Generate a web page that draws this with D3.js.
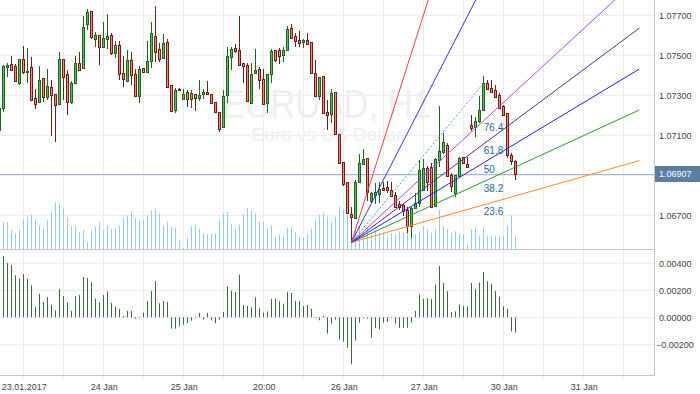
<!DOCTYPE html>
<html>
<head>
<meta charset="utf-8">
<script src="https://cdn.jsdelivr.net/npm/d3@7"></script>
<style>
  body { margin: 0; background: #fff; }
  svg { display: block; font-family: "Liberation Sans", Arial, sans-serif; }
</style>
</head>
<body>
<svg id="chart" width="700" height="394"></svg>
<script>
// EURUSD H1 candles, one entry per bar
const opens = [1.07127,1.07235,1.07440,1.07455,1.07447,1.07364,1.07480,1.07415,1.07440,1.07285,
  1.07265,1.07385,1.07290,1.07340,1.07305,1.07255,1.07480,1.07407,1.07264,1.07360,
  1.07460,1.07434,1.07655,1.07720,1.07584,1.07600,1.07539,1.07584,1.07600,1.07510,
  1.07550,1.07410,1.07370,1.07475,1.07407,1.07294,1.07435,1.07414,1.07470,1.07597,
  1.07530,1.07484,1.07567,1.07350,1.07225,1.07330,1.07280,1.07314,1.07280,1.07305,
  1.07284,1.07305,1.07315,1.07304,1.07265,1.07215,1.07144,1.07299,1.07490,1.07535,
  1.07524,1.07460,1.07450,1.07260,1.07410,1.07430,1.07380,1.07260,1.07407,1.07527,
  1.07527,1.07502,1.07524,1.07635,1.07597,1.07575,1.07567,1.07575,1.07565,1.07410,
  1.07294,1.07397,1.07215,1.07204,1.07315,1.07107,1.06965,1.06865,1.06705,1.06689,
  1.06864,1.06955,1.06985,1.06770,1.06802,1.06807,1.06835,1.06840,1.06827,1.06802,
  1.06757,1.06749,1.06727,1.06647,1.06735,1.06764,1.06827,1.06935,1.06944,1.06747,
  1.06977,1.07014,1.07052,1.06902,1.06810,1.06897,1.06990,1.06957,1.07149,1.07144,
  1.07169,1.07224,1.07364,1.07335,1.07324,1.07302,1.07244,1.07210,1.07002,1.06969];
const highs = [1.07244,1.07452,1.07460,1.07497,1.07457,1.07480,1.07547,1.07535,1.07490,1.07330,
  1.07447,1.07385,1.07430,1.07377,1.07305,1.07517,1.07480,1.07424,1.07369,1.07497,
  1.07517,1.07694,1.07732,1.07720,1.07617,1.07600,1.07665,1.07707,1.07610,1.07569,
  1.07569,1.07497,1.07527,1.07515,1.07430,1.07444,1.07435,1.07569,1.07664,1.07747,
  1.07560,1.07607,1.07580,1.07350,1.07335,1.07335,1.07330,1.07324,1.07327,1.07305,
  1.07377,1.07330,1.07369,1.07304,1.07265,1.07215,1.07327,1.07540,1.07544,1.07557,
  1.07697,1.07460,1.07460,1.07460,1.07530,1.07439,1.07430,1.07407,1.07530,1.07527,
  1.07537,1.07539,1.07647,1.07657,1.07610,1.07619,1.07580,1.07609,1.07565,1.07477,
  1.07394,1.07397,1.07277,1.07330,1.07315,1.07107,1.06965,1.06869,1.06744,1.06877,
  1.07005,1.07030,1.06985,1.06817,1.06860,1.06869,1.06869,1.06872,1.06869,1.06814,
  1.06769,1.06760,1.06744,1.06744,1.06810,1.06977,1.06980,1.06947,1.06960,1.06985,
  1.07244,1.07110,1.07060,1.06910,1.06902,1.06990,1.06994,1.06994,1.07202,1.07194,
  1.07294,1.07397,1.07377,1.07377,1.07352,1.07310,1.07252,1.07210,1.07010,1.06977];
const lows = [1.07124,1.07214,1.07390,1.07424,1.07367,1.07354,1.07407,1.07364,1.07274,1.07230,
  1.07265,1.07265,1.07277,1.07097,1.07069,1.07255,1.07274,1.07199,1.07257,1.07360,
  1.07419,1.07430,1.07624,1.07584,1.07544,1.07452,1.07539,1.07530,1.07502,1.07484,
  1.07377,1.07344,1.07370,1.07350,1.07290,1.07260,1.07410,1.07414,1.07434,1.07469,
  1.07464,1.07484,1.07339,1.07217,1.07209,1.07324,1.07280,1.07239,1.07234,1.07222,
  1.07270,1.07280,1.07300,1.07260,1.07214,1.07114,1.07144,1.07260,1.07424,1.07510,
  1.07450,1.07360,1.07267,1.07260,1.07410,1.07330,1.07254,1.07210,1.07364,1.07467,
  1.07457,1.07469,1.07524,1.07580,1.07544,1.07544,1.07534,1.07552,1.07407,1.07294,
  1.07277,1.07207,1.07127,1.07160,1.07102,1.06957,1.06844,1.06705,1.06564,1.06682,
  1.06860,1.06955,1.06770,1.06760,1.06757,1.06760,1.06819,1.06810,1.06794,1.06735,
  1.06727,1.06694,1.06610,1.06585,1.06735,1.06744,1.06819,1.06819,1.06740,1.06744,
  1.06944,1.07007,1.06890,1.06814,1.06794,1.06894,1.06957,1.06935,1.07119,1.07090,
  1.07160,1.07224,1.07327,1.07310,1.07285,1.07230,1.07197,1.06985,1.06952,1.06874];
const closes = [1.07235,1.07444,1.07452,1.07427,1.07370,1.07480,1.07414,1.07422,1.07277,1.07255,
  1.07377,1.07290,1.07347,1.07300,1.07250,1.07480,1.07394,1.07264,1.07360,1.07460,
  1.07427,1.07640,1.07715,1.07589,1.07600,1.07544,1.07585,1.07597,1.07510,1.07550,
  1.07404,1.07384,1.07475,1.07400,1.07294,1.07430,1.07414,1.07472,1.07610,1.07515,
  1.07480,1.07560,1.07342,1.07220,1.07327,1.07325,1.07305,1.07280,1.07310,1.07289,
  1.07302,1.07317,1.07304,1.07262,1.07215,1.07130,1.07294,1.07495,1.07530,1.07520,
  1.07450,1.07444,1.07270,1.07405,1.07425,1.07375,1.07257,1.07407,1.07522,1.07474,
  1.07497,1.07527,1.07630,1.07585,1.07569,1.07564,1.07577,1.07555,1.07409,1.07297,
  1.07394,1.07210,1.07202,1.07310,1.07107,1.06964,1.06855,1.06710,1.06690,1.06864,
  1.06960,1.06980,1.06814,1.06810,1.06814,1.06832,1.06825,1.06824,1.06797,1.06744,
  1.06740,1.06719,1.06647,1.06735,1.06760,1.06927,1.06935,1.06869,1.06744,1.06980,
  1.07019,1.07069,1.06894,1.06847,1.06902,1.06985,1.06960,1.06944,1.07135,1.07169,
  1.07227,1.07364,1.07330,1.07315,1.07290,1.07235,1.07202,1.07002,1.06969,1.06907];

// tick volume
const volumes = [2700,2730,2730,1930,1600,1930,3000,3270,3500,3000,
  2400,2070,2930,3730,4730,4600,4100,3200,2300,2300,
  1730,1930,730,1930,2300,2730,1930,2400,2070,2070,
  2400,3130,3400,3800,3130,2930,2930,3400,3900,4100,
  3600,2400,2730,2270,2170,930,170,1100,2300,2500,
  2070,1600,1500,1600,1600,2930,3600,3730,2600,2070,
  2500,3500,4170,3930,3600,2830,2730,2070,2400,1270,
  1500,1270,2170,2170,1730,1270,1170,1500,2070,3000,
  3500,3670,3270,2730,3270,4270,4000,3500,1700,2000,
  2330,1670,2170,1500,2000,1670,1670,1170,1670,1500,
  1830,1670,2000,1830,1500,1830,2330,2000,1670,2000,
  4000,2330,2000,1670,1830,1500,1500,500,2000,2170,
  1330,2170,1330,1330,1330,1330,1330,2400,3400,1330];

// lower window oscillator
const osc = [0.0046,0.00454,0.00402,0.00388,0.00311,0.00289,0.00321,0.00284,0.00237,0.00077,
  0.00175,0.00114,0.00151,0.00094,0.00052,0.0021,0.00156,0.00109,0.00047,0.00156,
  0.00165,0.00299,0.00291,0.00259,0.00138,0.00111,0.00165,0.00193,0.00106,0.00077,
  0.00062,0.0001,0.00047,0.00047,-0.0001,-0.00003,0.00035,0.00121,0.00195,0.00269,
  0.00104,0.00121,0.00114,-0.00084,-0.00084,-0.00067,-0.00054,-0.00044,-0.00025,-0.00005,
  0.00032,-0.00015,0.00032,-0.00022,-0.00044,-0.00017,0.0004,0.0023,0.00198,0.00188,
  0.00316,0.00091,0.00084,0.00074,0.00148,0.00067,0.00035,0.00044,0.00136,0.00138,
  0.00119,0.00101,0.00188,0.0018,0.00121,0.00121,0.00084,0.00091,0.00064,-0.00003,
  -0.00022,0.0001,-0.00121,-0.00047,-0.00017,-0.00165,-0.0018,-0.00225,-0.00348,-0.00173,
  -0.0004,0.00002,-0.0001,-0.0015,-0.00081,-0.00089,-0.0004,-0.00035,0.00002,-0.00047,
  -0.00079,-0.00079,-0.00077,-0.0004,0.00047,0.0017,0.00136,0.00141,0.00136,0.00242,
  0.0038,0.00254,0.00193,0.0004,0.00044,0.00094,0.00084,0.00079,0.00254,0.0021,
  0.00257,0.00336,0.00267,0.00249,0.00195,0.00153,0.00081,0.00062,-0.00104,-0.00114];

const priceTicks = [1.077, 1.075, 1.073, 1.071, 1.069, 1.067];
const oscTicks = [0.004, 0.002, 0, -0.002];
const dateLabels = ["23.01.2017", "24 Jan", "25 Jan", "20:00", "26 Jan", "27 Jan", "30 Jan", "31 Jan"];
const dateIndex = [6, 26, 46, 66, 86, 106, 126, 146];
const gridIndex = d3.range(6, 160, 10);
const lastPrice = 1.06907;

// fibonacci fan: from the low bar to the high bar
const fanFrom = { bar: 88, price: 1.06564 };
const fanTo = { bar: 121, price: 1.07359 };
const fanLevels = [23.6, 38.2, 50, 61.8, 76.4, 161.8, 261.8];
const fanColors = ["#ff8a1c", "#2e9a2e", "#1e1eff", "#5e2a8e", "#b048e8", "#3434d8", "#e84040"];
const fanEndBar = 160;

const svg = d3.select("#chart");
const W = 654.5, MAIN_B = 249.5, OSC_B = 375.5;

const x = d3.scaleLinear().domain([0, 100]).range([-0.7, 399.3]);
const y = d3.scaleLinear().domain([1.077, 1.065]).range([15.3, 255.3]);
const yv = d3.scaleLinear().domain([0, 5000]).range([MAIN_B, MAIN_B - 50]);
const yo = d3.scaleLinear().domain([0.004, -0.002]).range([263.3, 344.3]);
const px = v => Math.round(v) + 0.5;

svg.append("rect").attr("width", 700).attr("height", 394).attr("fill", "#fff");

svg.append("clipPath").attr("id", "mainClip")
  .append("rect").attr("x", 0).attr("y", 0).attr("width", W).attr("height", MAIN_B);

// grid
const grid = svg.append("g").attr("stroke", "#ececec").attr("stroke-width", 1);
grid.selectAll(".vg").data(gridIndex).enter().append("line")
  .attr("x1", d => px(x(d))).attr("x2", d => px(x(d)))
  .attr("y1", 0).attr("y2", 379);
grid.selectAll(".hg").data(priceTicks).enter().append("line")
  .attr("x1", 0).attr("x2", W).attr("y1", d => px(y(d))).attr("y2", d => px(y(d)));
grid.selectAll(".og").data(oscTicks).enter().append("line")
  .attr("x1", 0).attr("x2", W).attr("y1", d => px(yo(d))).attr("y2", d => px(yo(d)));

// watermark
const wm = svg.append("g").attr("fill", "#efefef").attr("text-anchor", "middle");
wm.append("text").attr("x", 327).attr("y", 118).attr("font-size", 40)
  .attr("textLength", 210).attr("lengthAdjust", "spacingAndGlyphs").text("EURUSD, H1");
wm.append("text").attr("x", 327).attr("y", 141).attr("font-size", 19).text("Euro vs US Dollar");

const main = svg.append("g").attr("clip-path", "url(#mainClip)");

// volumes
main.append("g").selectAll("rect").data(volumes).enter().append("rect")
  .attr("x", (d, i) => Math.round(x(i)))
  .attr("y", d => yv(d))
  .attr("width", 1)
  .attr("height", d => MAIN_B - yv(d))
  .attr("fill", "#8ecbef");

// current price line
main.append("line")
  .attr("x1", 0).attr("x2", W)
  .attr("y1", px(y(lastPrice))).attr("y2", px(y(lastPrice)))
  .attr("stroke", "#a3b5dc").attr("stroke-width", 1);

// candles
const bars = d3.range(opens.length).map(i => ({
  i: i, o: opens[i], h: highs[i], l: lows[i], c: closes[i], up: closes[i] >= opens[i]
}));
const candle = main.append("g").selectAll("g").data(bars).enter().append("g");
candle.append("rect")
  .attr("x", d => Math.round(x(d.i)))
  .attr("y", d => Math.round(y(d.h)))
  .attr("width", 1)
  .attr("height", d => Math.max(1, Math.round(y(d.l)) - Math.round(y(d.h))))
  .attr("fill", d => d.up ? "#1f641f" : "#6e1f18");
candle.append("rect")
  .attr("x", d => Math.round(x(d.i)) - 1)
  .attr("y", d => Math.round(y(Math.max(d.o, d.c))))
  .attr("width", 3)
  .attr("height", d => Math.max(2, Math.round(y(Math.min(d.o, d.c))) - Math.round(y(Math.max(d.o, d.c))) + 1))
  .attr("fill", d => d.up ? "#1f641f" : "#6e1f18");
candle.append("rect")
  .attr("x", d => Math.round(x(d.i)))
  .attr("y", d => Math.round(y(Math.max(d.o, d.c))) + 1)
  .attr("width", 1)
  .attr("height", d => Math.max(0, Math.round(y(Math.min(d.o, d.c))) - Math.round(y(Math.max(d.o, d.c))) - 1))
  .attr("fill", d => d.up ? "#5cb85c" : "#f48a74");

// fibonacci fan
const fx0 = x(fanFrom.bar), fy0 = y(fanFrom.price);
const fx1 = x(fanTo.bar), fy1 = y(fanTo.price);
const fxe = x(fanEndBar);
const fan = main.append("g").attr("fill", "none");
fan.append("line")
  .attr("x1", fx0).attr("y1", fy0).attr("x2", fx1).attr("y2", fy1)
  .attr("stroke", "#4d98c8").attr("stroke-width", 1).attr("stroke-dasharray", "2,2");
fan.selectAll(".lvl").data(fanLevels).enter().append("line")
  .attr("x1", fx0).attr("y1", fy0).attr("x2", fxe)
  .attr("y2", d => fy0 + (d / 100) * (fy1 - fy0) * (fxe - fx0) / (fx1 - fx0))
  .attr("stroke", (d, i) => fanColors[i]).attr("stroke-width", 1);

// level labels sit under each line at the high bar; the steep ones fall off the top
const labelY = d => fy0 + (d / 100) * (fy1 - fy0) + 10;
main.append("g").selectAll("text").data(fanLevels.filter(d => labelY(d) > 12)).enter().append("text")
  .attr("x", fx1 + 0.5)
  .attr("y", labelY)
  .attr("font-size", 10).attr("fill", "#236c9c")
  .text(d => d);

// oscillator bars
svg.append("g").selectAll("rect").data(osc).enter().append("rect")
  .attr("x", (d, i) => Math.round(x(i)))
  .attr("y", d => Math.min(yo(d), yo(0)))
  .attr("width", 1)
  .attr("height", d => Math.max(0.6, Math.abs(yo(d) - yo(0))))
  .attr("fill", "#3f6a3f");

// frame
const frame = svg.append("g").attr("stroke", "#c4c4c4").attr("stroke-width", 1);
frame.append("line").attr("x1", 0).attr("x2", W).attr("y1", MAIN_B).attr("y2", MAIN_B);
frame.append("line").attr("x1", 0).attr("x2", W).attr("y1", OSC_B).attr("y2", OSC_B);
frame.append("line").attr("x1", W).attr("x2", W).attr("y1", 0).attr("y2", OSC_B);

// price axis
const axisText = svg.append("g").attr("font-size", 9).attr("fill", "#444");
axisText.selectAll(".pt").data(priceTicks.filter(d => Math.abs(d - lastPrice) > 0.0004)).enter().append("text")
  .attr("x", 659).attr("y", d => y(d) + 3.5).text(d => d3.format(".5f")(d));
axisText.selectAll(".ot").data(oscTicks).enter().append("text")
  .attr("x", d => d < 0 ? 656 : 659).attr("y", d => yo(d) + 3.5).text(d => d3.format(".5f")(d));
axisText.selectAll(".dt").data(dateLabels).enter().append("text")
  .attr("x", (d, i) => x(dateIndex[i]) + 1).attr("y", 390)
  .attr("text-anchor", "middle").text(d => d);

// last price tag
svg.append("rect").attr("x", 655).attr("y", Math.round(y(lastPrice)) - 8)
  .attr("width", 45).attr("height", 16).attr("fill", "#5b7fa3");
svg.append("text").attr("x", 659).attr("y", y(lastPrice) + 3.5)
  .attr("font-size", 9).attr("fill", "#fff").text(d3.format(".5f")(lastPrice));
</script>
</body>
</html>
